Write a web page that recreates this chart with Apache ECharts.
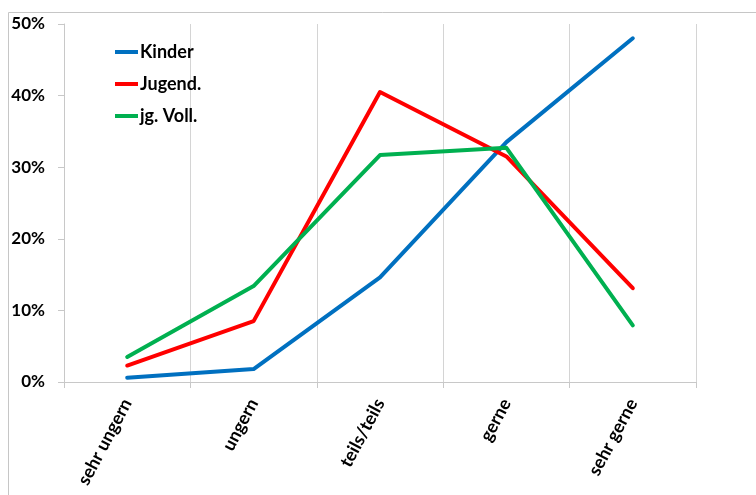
<!DOCTYPE html>
<html>
<head>
<meta charset="utf-8">
<script src="https://cdn.jsdelivr.net/npm/echarts@6/dist/echarts.min.js"></script>
<style>
html,body{margin:0;padding:0;background:#fff;}
#c{width:756px;height:495px;}
</style>
</head>
<body>
<div id="c"></div>
<script>
var categories = ['sehr ungern', 'ungern', 'teils/teils', 'gerne', 'sehr gerne'];
var seriesNames = ['Kinder', 'Jugend.', 'jg. Voll.'];
var kinder = [0.6, 1.8, 14.6, 33.5, 48.0];
var jugend = [2.3, 8.5, 40.5, 31.5, 13.1];
var jgVoll = [3.5, 13.4, 31.7, 32.7, 7.9];
var yTicks = [0, 10, 20, 30, 40, 50];
var colors = ['#0070C0', '#FF0000', '#00B050'];

var font = 'Lato, "Open Sans", sans-serif';
var chart = echarts.init(document.getElementById('c'), null, {renderer: 'canvas'});
function mk(name, data, color) {
  return {
    name: name, type: 'line', data: data, symbol: 'none', smooth: false,
    lineStyle: {color: color, width: 4, cap: 'round', join: 'round'},
    itemStyle: {color: color},
    emphasis: {disabled: true}
  };
}
chart.setOption({
  animation: false,
  backgroundColor: '#fff',
  graphic: [{
    type: 'rect', shape: {x: 8.5, y: 12.5, width: 800, height: 600},
    style: {fill: 'none', stroke: '#c6c6c6', lineWidth: 1}, silent: true, z: -1
  }],
  grid: {left: 64, top: 24, right: 60, bottom: 113, containLabel: false},
  legend: {
    orient: 'vertical', left: 110, top: 38, itemWidth: 23, itemHeight: 4, itemGap: 14,
    icon: 'rect',
    textStyle: {fontFamily: font, fontWeight: 'bold', fontSize: 18, color: '#000', padding: [0, 0, 0, -3]},
    data: seriesNames
  },
  xAxis: {
    type: 'category', data: categories, boundaryGap: true,
    axisLine: {show: true, lineStyle: {color: '#c8c8c8', width: 1}},
    axisTick: {show: true, length: 6, alignWithLabel: false, lineStyle: {color: '#c8c8c8'}},
    splitLine: {show: true, lineStyle: {color: '#d4d4d4', width: 1}},
    axisLabel: {rotate: 62, margin: 18, fontFamily: font, fontWeight: 'bold', fontSize: 18, color: '#000', interval: 0}
  },
  yAxis: {
    type: 'value', min: 0, max: 50, interval: 10,
    axisLine: {show: true, lineStyle: {color: '#c8c8c8', width: 1}},
    axisTick: {show: true, length: 6, lineStyle: {color: '#c8c8c8'}},
    splitLine: {show: false},
    axisLabel: {
      margin: 19, fontFamily: font, fontWeight: 'bold', fontSize: 17, color: '#000',
      formatter: function (v) { return yTicks.indexOf(v) >= 0 ? v + '%' : ''; }
    }
  },
  series: [
    mk(seriesNames[0], kinder, colors[0]),
    mk(seriesNames[1], jugend, colors[1]),
    mk(seriesNames[2], jgVoll, colors[2])
  ]
});
</script>
</body>
</html>
